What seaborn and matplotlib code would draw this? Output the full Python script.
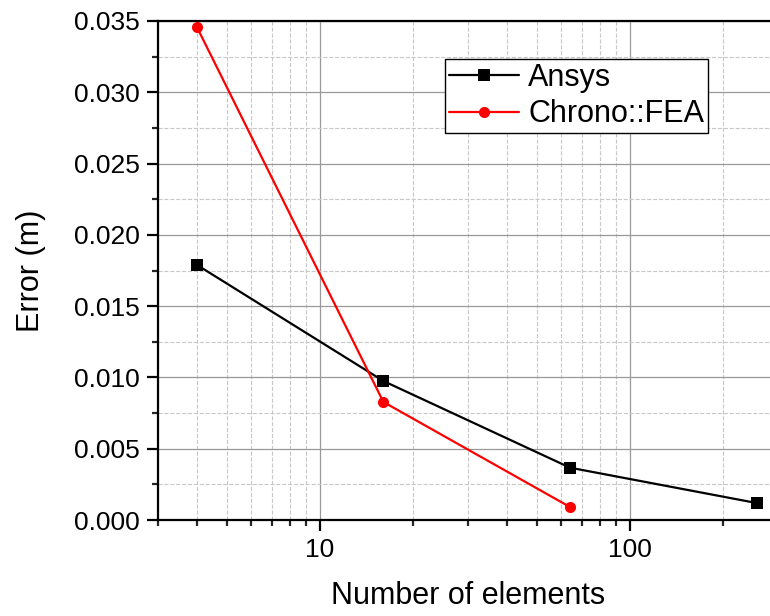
import pandas as pd
import numpy as np
import matplotlib
matplotlib.use("Agg")
import matplotlib.pyplot as plt
import seaborn as sns
from matplotlib.ticker import MultipleLocator, LogLocator, FuncFormatter

# values
elements_ansys = [4, 16, 64, 256]
error_ansys = [0.0179, 0.00975, 0.00367, 0.00119]
elements_chrono = [4, 16, 64]
error_chrono = [0.0346, 0.00828, 0.00091]

df = pd.concat([
    pd.DataFrame({"elements": elements_ansys, "error": error_ansys, "method": "Ansys"}),
    pd.DataFrame({"elements": elements_chrono, "error": error_chrono, "method": "Chrono::FEA"}),
])

sns.set_style("white")
plt.rcParams["font.family"] = ["Liberation Sans", "DejaVu Sans"]
plt.rcParams["text.color"] = "black"
plt.rcParams["axes.labelcolor"] = "black"

fig = plt.figure(figsize=(7.7, 6.16), dpi=100)
ax = fig.add_axes([158 / 770, 1 - 520 / 616, 620 / 770, (520 - 21) / 616])

sns.lineplot(data=df, x="elements", y="error", hue="method", style="method",
             palette={"Ansys": "black", "Chrono::FEA": "red"},
             markers={"Ansys": "s", "Chrono::FEA": "o"}, dashes=False,
             markersize=8, markeredgewidth=0, linewidth=1.6, ax=ax)

ax.set_xscale("log")
ax.set_xlim(3, 300)
ax.set_ylim(0, 0.035)
ax.yaxis.set_major_locator(MultipleLocator(0.005))
ax.yaxis.set_minor_locator(MultipleLocator(0.0025))
ax.xaxis.set_major_locator(LogLocator(base=10))
ax.xaxis.set_minor_locator(LogLocator(base=10, subs=np.arange(2, 10)))
ax.xaxis.set_major_formatter(FuncFormatter(lambda v, p: f"{v:g}"))
ax.xaxis.set_minor_formatter(plt.NullFormatter())
ax.yaxis.set_major_formatter(plt.FormatStrFormatter("%.3f"))

ax.grid(True, which="major", color="#999999", linestyle="-", linewidth=0.9)
ax.grid(True, which="minor", color="#c8c8c8", linestyle="--", linewidth=0.8)
ax.set_axisbelow(True)

for s in ["left", "bottom", "top"]:
    ax.spines[s].set_color("black")
    ax.spines[s].set_linewidth(1.6)
ax.spines["right"].set_visible(False)

ax.tick_params(which="major", direction="out", length=8, width=1.6, pad=5,
               labelsize=19, colors="black", left=True, bottom=True)
ax.tick_params(which="minor", direction="out", length=4, width=1.6,
               left=True, bottom=True)

ax.set_xlabel("Number of elements", fontsize=22, labelpad=14)
ax.set_ylabel("Error (m)", fontsize=22, labelpad=20)

leg = ax.legend(loc="upper left", bbox_to_anchor=(0.463, 0.923), fontsize=22,
                frameon=True, fancybox=False, edgecolor="black",
                handlelength=2.3, borderpad=0.12, labelspacing=0.2,
                handletextpad=0.3, borderaxespad=0, markerscale=1.0)
leg.get_frame().set_linewidth(1.0)
leg.get_frame().set_alpha(1)

fig.savefig("out.png", dpi=100)
